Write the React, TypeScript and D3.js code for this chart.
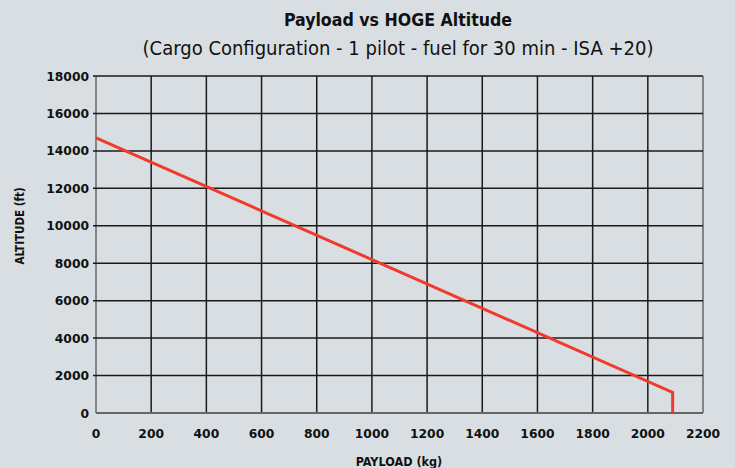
import React from "react";
import * as d3 from "d3";

const payloadKg = [0, 2090, 2090];
const altitudeFt = [14700, 1100, 0];
const xTicks = [0, 200, 400, 600, 800, 1000, 1200, 1400, 1600, 1800, 2000, 2200];
const yTicks = [0, 2000, 4000, 6000, 8000, 10000, 12000, 14000, 16000, 18000];

const W = 735, H = 468;
const M = { left: 96, right: 32, top: 76, bottom: 55 };

export default function App() {
  const x = d3.scaleLinear().domain([0, 2200]).range([M.left, W - M.right]);
  const y = d3.scaleLinear().domain([0, 18000]).range([H - M.bottom, M.top]);
  const pts: [number, number][] = payloadKg.map((p, i) => [p, altitudeFt[i]]);
  const line = d3.line<[number, number]>().x(d => x(d[0])).y(d => y(d[1]));
  const tickFont = "DejaVu Sans, sans-serif";
  const condFont = "'DejaVu Sans Condensed', 'DejaVu Sans', sans-serif";
  return (
    <svg width={W} height={H} style={{ position: "absolute", left: 0, top: 0, display: "block" }}>
      <rect x={0} y={0} width={W} height={H} fill="#d9dee2" />
      <text x={398} y={26} textAnchor="middle" fontFamily={condFont} fontWeight="bold" fontSize={17.6} fill="#111">Payload vs HOGE Altitude</text>
      <text x={398} y={55} textAnchor="middle" fontFamily={condFont} fontSize={20} fill="#111">(Cargo Configuration - 1 pilot - fuel for 30 min - ISA +20)</text>
      {xTicks.map(t => (
        <line key={"gx" + t} x1={x(t)} x2={x(t)} y1={y(0)} y2={y(18000)}
          stroke={t === 0 || t === 2200 ? "#666" : "#1a1a1a"} strokeWidth={1.5} />
      ))}
      {yTicks.map(t => (
        <line key={"gy" + t} x1={x(0) - (t === 0 ? 0 : 3)} x2={x(2200)} y1={y(t)} y2={y(t)}
          stroke={t === 0 ? "#666" : "#1a1a1a"} strokeWidth={t === 0 ? 2 : 1.5} />
      ))}
      {xTicks.map(t => (
        <text key={"tx" + t} x={x(t)} y={y(0) + 25} textAnchor="middle" fontFamily={tickFont} fontWeight="bold" fontSize={12.3} fill="#111">{t}</text>
      ))}
      {yTicks.map(t => (
        <text key={"ty" + t} x={x(0) - 7} y={y(t) + 4.5} textAnchor="end" fontFamily={tickFont} fontWeight="bold" fontSize={12.3} fill="#111">{t}</text>
      ))}
      <path d={line(pts) || ""} fill="none" stroke="#f03a2c" strokeWidth={3} strokeLinejoin="miter" />
      <text x={399} y={466} textAnchor="middle" fontFamily={condFont} fontWeight="bold" fontSize={12.5} fill="#111">PAYLOAD (kg)</text>
      <text transform="translate(24,226) rotate(-90)" textAnchor="middle" fontFamily={condFont} fontWeight="bold" fontSize={11.5} fill="#111">ALTITUDE (ft)</text>
    </svg>
  );
}
